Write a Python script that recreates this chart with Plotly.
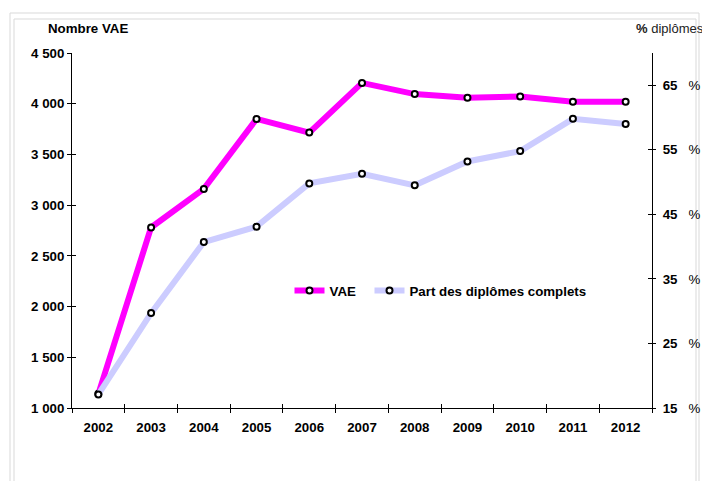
import plotly.graph_objects as go

years = [2002, 2003, 2004, 2005, 2006, 2007, 2008, 2009, 2010, 2011, 2012]
vae = [1140, 2780, 3160, 3850, 3715, 4205, 4095, 4060, 4070, 4020, 4020]
part_complets = [17.1, 29.7, 40.7, 43.1, 49.8, 51.3, 49.5, 53.2, 54.8, 59.8, 59.0]

left_ticks = [1000, 1500, 2000, 2500, 3000, 3500, 4000, 4500]
right_ticks = [15, 25, 35, 45, 55, 65]
right_ticktext = ["<b>%d</b>&nbsp;&nbsp;&nbsp;%%" % v for v in right_ticks]
boundaries = [y - 0.5 for y in years] + [years[-1] + 0.5]

FONT = "Liberation Sans, Arial, sans-serif"
FS = 13.3
xr = [years[0] - 0.5, years[-1] + 0.5]

fig = go.Figure()
marker = dict(symbol="circle", size=6, color="white", line=dict(color="black", width=2))
fig.add_trace(go.Scatter(x=years, y=part_complets, name="Part des diplômes complets",
                         mode="lines+markers",
                         line=dict(color="#ccccff", width=6), marker=marker,
                         xaxis="x", yaxis="y2"))
fig.add_trace(go.Scatter(x=years, y=vae, name="VAE", mode="lines+markers",
                         line=dict(color="#ff00ff", width=6), marker=marker,
                         legendwidth=35,
                         xaxis="x", yaxis="y"))
# invisible helper traces so the overlay axes (extra tick directions / labels) are drawn
fig.add_trace(go.Scatter(x=years, y=vae, mode="lines", line=dict(width=0, color="rgba(0,0,0,0)"),
                         xaxis="x2", yaxis="y3", showlegend=False, hoverinfo="skip"))
fig.add_trace(go.Scatter(x=years, y=part_complets, mode="lines", line=dict(width=0, color="rgba(0,0,0,0)"),
                         xaxis="x3", yaxis="y4", showlegend=False, hoverinfo="skip"))

axis_common = dict(showgrid=False, zeroline=False, linecolor="black", linewidth=1,
                   tickcolor="black", tickwidth=1, automargin=False)

fig.update_layout(
    width=702, height=481,
    margin=dict(l=72, r=50, t=53, b=73, autoexpand=False),
    paper_bgcolor="white", plot_bgcolor="white",
    separators=", ",
    font=dict(family=FONT, size=FS, color="black"),
    showlegend=True,
    legend=dict(orientation="h", x=0.375, xanchor="left", y=0.33, yanchor="middle",
                font=dict(family=FONT, size=FS, color="black", weight="bold"),
                traceorder="reversed",
                bgcolor="rgba(0,0,0,0)"),
    xaxis=dict(range=xr, tickmode="array", tickvals=boundaries,
               ticktext=[""] * len(boundaries), ticks="outside", ticklen=4,
               showline=True, **axis_common),
    xaxis2=dict(range=xr, overlaying="x", anchor="y3", tickmode="array", tickvals=boundaries,
                ticktext=[""] * len(boundaries), ticks="inside", ticklen=4,
                showline=False, showgrid=False, zeroline=False, tickcolor="black",
                automargin=False),
    xaxis3=dict(range=xr, overlaying="x", anchor="y4", tickmode="array", tickvals=years,
                ticktext=[str(y) for y in years], ticks="", showline=False,
                showgrid=False, zeroline=False, ticklabelstandoff=10, automargin=False,
                tickfont=dict(family=FONT, size=FS, weight="bold")),
    yaxis=dict(range=[1000, 4500], tickmode="array", tickvals=left_ticks,
               tickformat=",d", ticks="outside", ticklen=4, showline=True,
               tickfont=dict(family=FONT, size=FS, weight="bold"), **axis_common),
    yaxis3=dict(range=[1000, 4500], overlaying="y", anchor="x2", side="left",
                tickmode="array", tickvals=left_ticks, showticklabels=False,
                ticks="inside", ticklen=4, showline=False, showgrid=False,
                zeroline=False, tickcolor="black", automargin=False),
    yaxis2=dict(range=[15, 70], overlaying="y", anchor="x", side="right",
                tickmode="array", tickvals=right_ticks, ticktext=right_ticktext,
                ticks="outside", ticklen=3, showline=True, ticklabelstandoff=4,
                tickfont=dict(family=FONT, size=FS, weight="normal", color="black"),
                **axis_common),
    yaxis4=dict(range=[15, 70], overlaying="y", anchor="x3", side="right",
                tickmode="array", tickvals=right_ticks, showticklabels=False,
                ticks="inside", ticklen=4, showline=False, showgrid=False,
                zeroline=False, tickcolor="black", automargin=False),
)

fig.add_annotation(text="<b>Nombre VAE</b>", xref="paper", yref="paper",
                   x=(46 - 72) / 580, y=(408 - 28) / 355, xanchor="left", yanchor="middle",
                   showarrow=False, font=dict(family=FONT, size=FS, color="black"))
fig.add_annotation(text="<b>%</b> diplômes", xref="paper", yref="paper",
                   x=(634 - 72) / 580, y=(408 - 28) / 355, xanchor="left", yanchor="middle",
                   showarrow=False, font=dict(family=FONT, size=13, color="#222222"))

# frames
fig.add_shape(type="rect", xref="paper", yref="paper",
              x0=(10 - 72) / 580, x1=(699 - 72) / 580, y0=(408 - 500) / 355, y1=(408 - 13) / 355,
              line=dict(color="#d9d9d9", width=1), fillcolor="rgba(0,0,0,0)", layer="below")
fig.add_shape(type="rect", xref="paper", yref="paper",
              x0=(14 - 72) / 580, x1=(696 - 72) / 580, y0=(408 - 500) / 355, y1=(408 - 19) / 355,
              line=dict(color="#d9d9d9", width=1), fillcolor="rgba(0,0,0,0)", layer="below")

fig.write_html("out.html", config={"displayModeBar": False},
               post_script="document.body.style.margin='0';document.body.style.padding='0';")
